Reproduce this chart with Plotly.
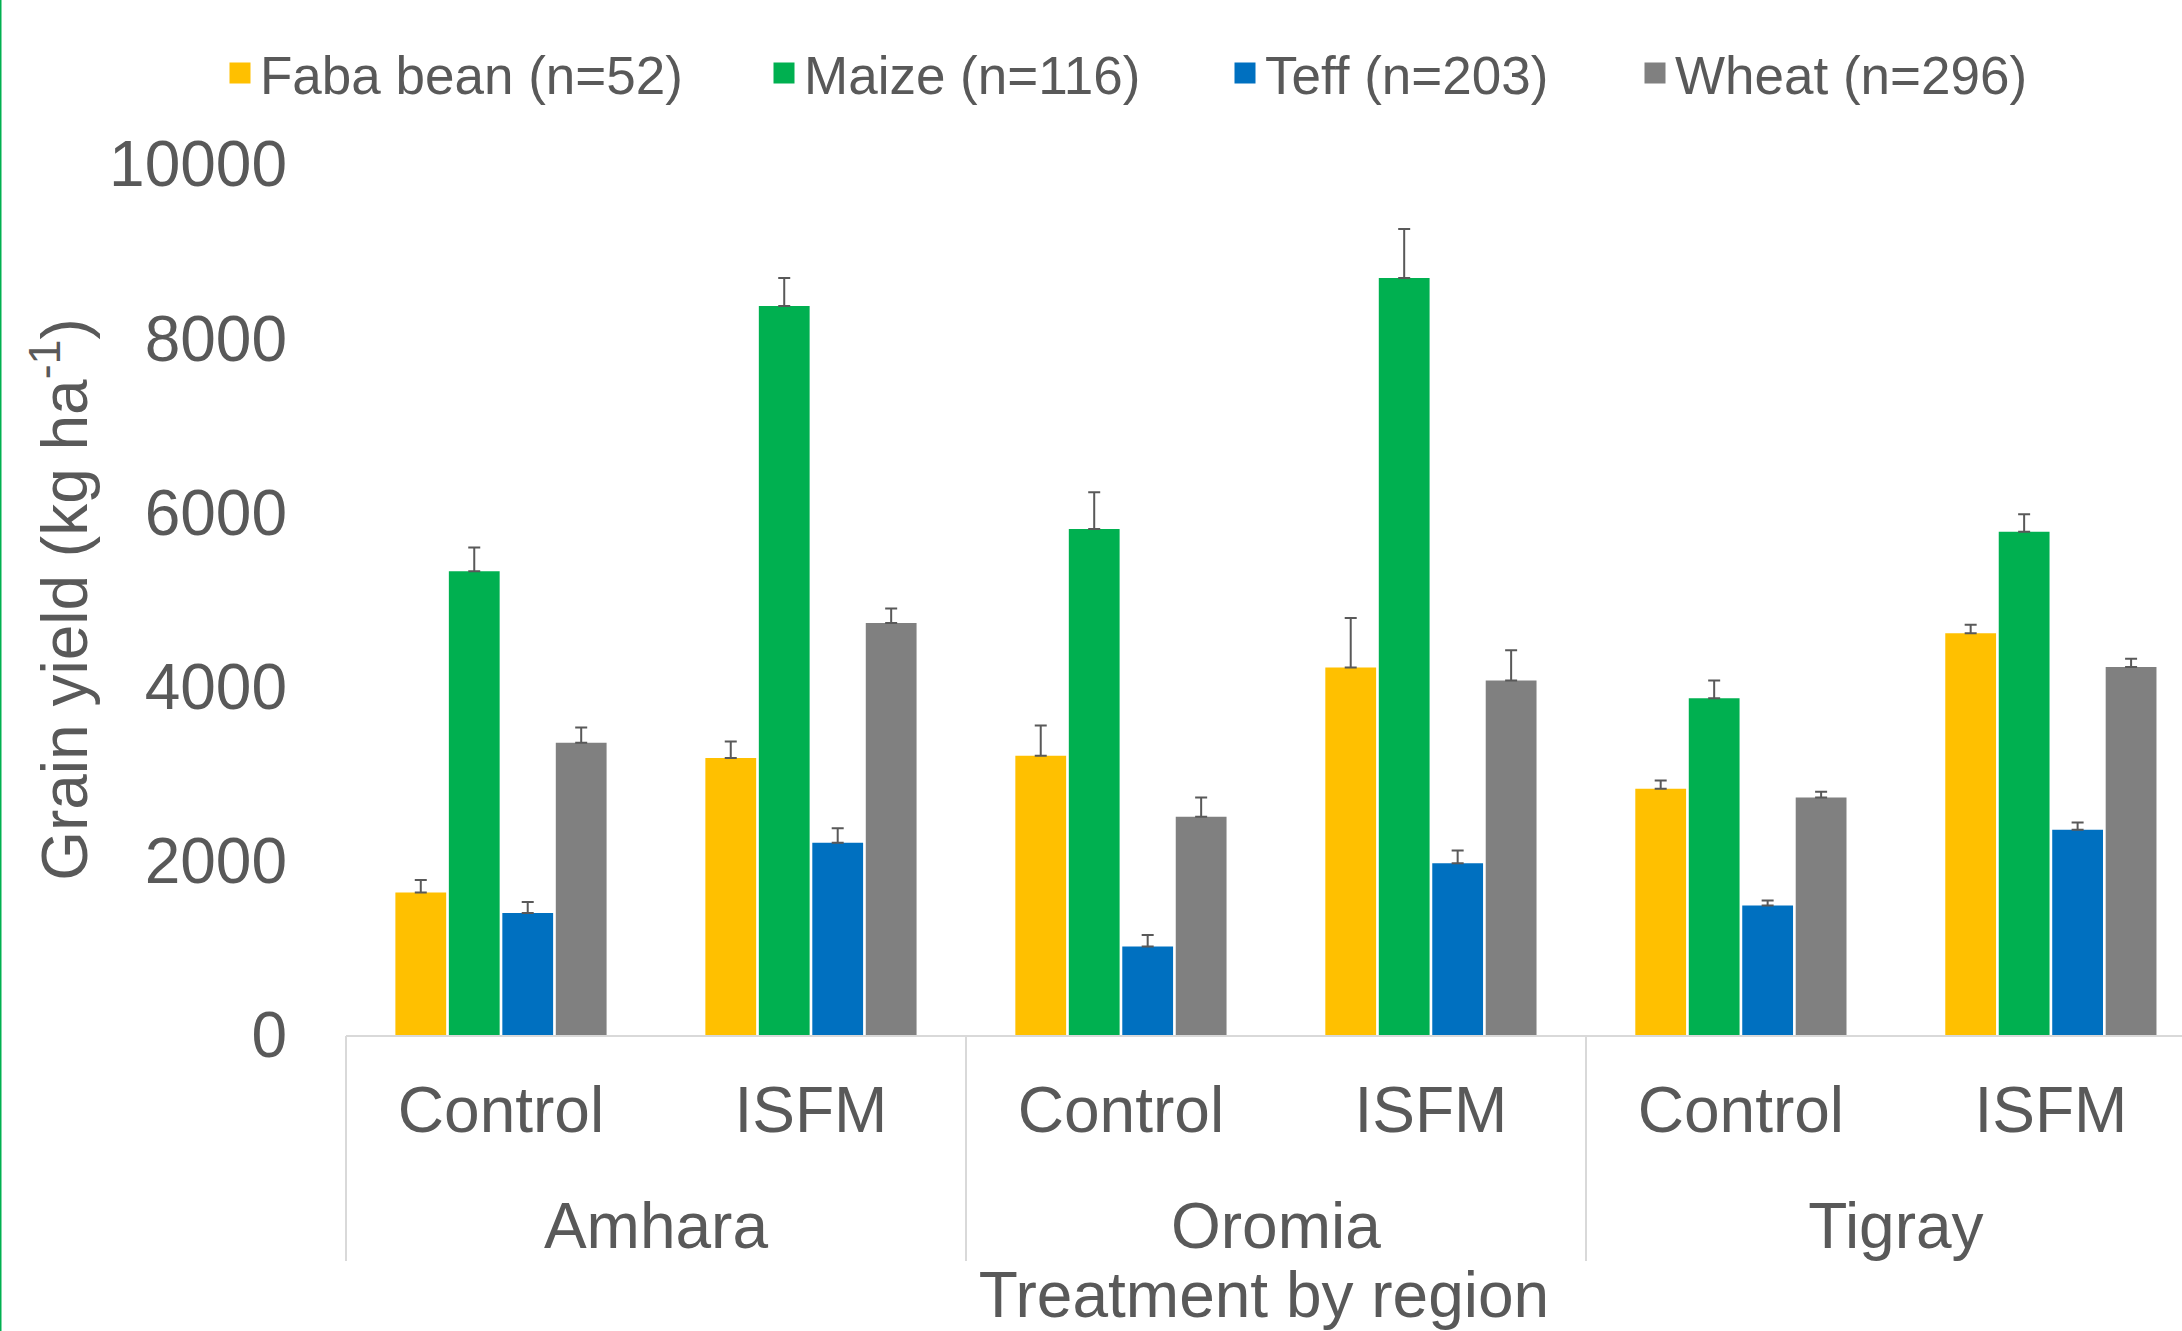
import plotly.graph_objects as go

# ---- data ----
regions = ["Amhara", "Amhara", "Oromia", "Oromia", "Tigray", "Tigray"]
treatments = ["Control", "ISFM", "Control", "ISFM", "Control", "ISFM"]

series_names = ["Faba bean (n=52)", "Maize (n=116)", "Teff (n=203)", "Wheat (n=296)"]
faba = [1636, 3181, 3207, 4220, 2826, 4612]
maize = [5323, 8370, 5808, 8692, 3867, 5778]
teff = [1402, 2206, 1015, 1972, 1486, 2356]
wheat = [3354, 4731, 2507, 4070, 2727, 4224]

faba_err = [144, 190, 346, 567, 97, 99]
maize_err = [275, 320, 422, 561, 204, 201]
teff_err = [124, 168, 132, 145, 57, 85]
wheat_err = [177, 165, 221, 346, 67, 97]

y_ticks = [0, 2000, 4000, 6000, 8000, 10000]

# ---- derived positions (category index on the x axis) ----
x_idx = list(range(len(treatments)))
region_names = list(dict.fromkeys(regions))
region_centers = []
region_bounds = []
for r in region_names:
    idx = [i for i, rr in enumerate(regions) if rr == r]
    region_centers.append(sum(idx) / len(idx))
    region_bounds.append(min(idx) - 0.5)
region_bounds.append(max(x_idx) + 0.5)

# ---- style ----
colors = ["#FFC000", "#00B050", "#0070C0", "#808080"]
text_color = "#595959"
axis_grey = "#D9D9D9"
font_family = "Liberation Sans, Arial, sans-serif"
W, H = 2182, 1331
ML, MR, MT, MB = 346, 0, 164, 296
PW = W - ML - MR
x_range = [-0.5, 5.423]

values = [faba, maize, teff, wheat]
errors = [faba_err, maize_err, teff_err, wheat_err]

fig = go.Figure()
for name, vals, errs, col in zip(series_names, values, errors, colors):
    fig.add_trace(go.Bar(
        x=x_idx, y=vals, name=name,
        marker=dict(color=col, line=dict(width=0)),
        error_y=dict(type="data", array=errs, arrayminus=[0] * len(errs),
                     symmetric=False, color=text_color, thickness=2, width=6),
        showlegend=False,
    ))

# legend entries (one legend per item to match spacing)
legend_text_x = [263, 807, 1268, 1678]
legend_keys = ["legend", "legend2", "legend3", "legend4"]
for i, (name, col) in enumerate(zip(series_names, colors)):
    fig.add_trace(go.Scatter(
        x=[None], y=[None], name=name, mode="markers",
        marker=dict(symbol="square", size=16, color=col, line=dict(color=col, width=5)),
        legend=legend_keys[i], showlegend=True, hoverinfo="skip",
    ))

# carrier traces for the overlaid label / divider axes
for ax in ["x2", "x3"]:
    fig.add_trace(go.Scatter(x=[None], y=[None], xaxis=ax, yaxis="y",
                             showlegend=False, hoverinfo="skip"))

leg_common = dict(orientation="h", xanchor="left", yanchor="middle",
                  xref="container", yref="container",
                  font=dict(size=53, color=text_color, family=font_family),
                  bgcolor="rgba(0,0,0,0)", borderwidth=0, itemsizing="trace")
layout_legends = {}
for key, tx in zip(legend_keys, legend_text_x):
    layout_legends[key] = dict(leg_common, x=(tx - 43) / W, y=1 - 73 / H)

tick_font = dict(size=64, color=text_color, family=font_family)

fig.update_layout(
    width=W, height=H,
    margin=dict(l=ML, r=MR, t=MT, b=MB, pad=0),
    paper_bgcolor="white", plot_bgcolor="white",
    font=dict(family=font_family, color=text_color),
    barmode="group", bargap=0.31, bargroupgap=0.05,
    **layout_legends,
    xaxis=dict(
        range=x_range, tickvals=x_idx, ticktext=treatments,
        showline=True, linecolor=axis_grey, linewidth=2,
        showgrid=False, zeroline=False, ticks="",
        ticklabelstandoff=18, tickfont=tick_font,
    ),
    xaxis2=dict(
        overlaying="x", anchor="y", side="bottom", range=x_range,
        tickvals=region_centers, ticktext=region_names,
        showline=False, showgrid=False, zeroline=False, ticks="",
        ticklabelstandoff=148, tickfont=tick_font,
        title=dict(text="Treatment by region", font=tick_font, standoff=18),
    ),
    xaxis3=dict(
        overlaying="x", anchor="y", side="bottom", range=x_range,
        tickvals=region_bounds, showticklabels=False,
        showline=False, showgrid=False, zeroline=False,
        ticks="outside", ticklen=225, tickwidth=2, tickcolor=axis_grey,
    ),
    yaxis=dict(
        range=[0, 10000], tickvals=y_ticks, ticktext=[str(v) for v in y_ticks],
        showgrid=False, zeroline=False, showline=False, ticks="",
        ticklabelstandoff=58, tickfont=tick_font,
        title=dict(text="Grain yield (kg ha<sup>-1</sup>)", standoff=0, font=tick_font),
    ),
    shapes=[dict(type="line", xref="paper", yref="paper",
                 x0=-ML / PW, x1=-ML / PW, y0=-MB / (H - MT - MB), y1=1 + MT / (H - MT - MB),
                 line=dict(color="#00B050", width=3))],
)

fig.write_html("out.html", config={"displayModeBar": False},
               post_script="document.body.style.margin='0';")
